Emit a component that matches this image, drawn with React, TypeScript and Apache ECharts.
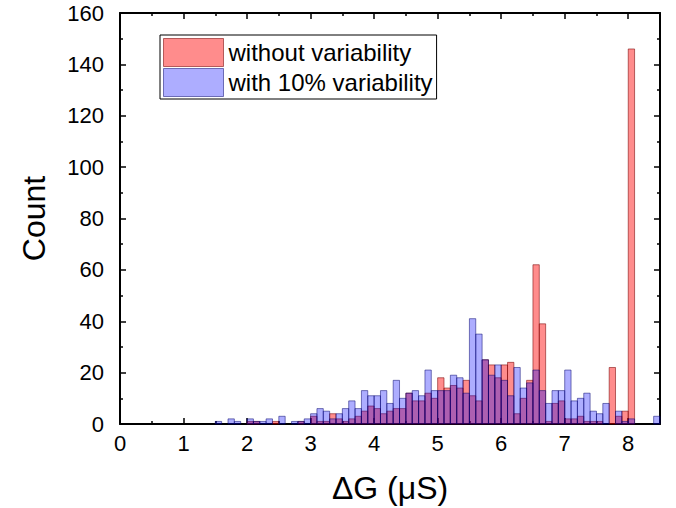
import React, { useEffect, useRef } from 'react';
import * as echarts from 'echarts';

// Histogram bins of width 0.1 µS, starting at 1.5 µS (bins 1.5–1.6 … 8.4–8.5)
const BIN_WIDTH = 0.1;
const FIRST_BIN_INDEX = 15; // 1.5 / 0.1

const seriesNames = ['without variability', 'with 10% variability'];

// counts, "without variability"
const withoutVariability = [
  0, 0, 0, 0, 0, 1, 1, 0, 0, 1, // 1.5 - 2.4
  0, 0, 0, 1, 0, 3, 1, 1, 4, 2, // 2.5 - 3.4
  1, 2, 3, 5, 7, 6, 4, 5, 6, 6, // 3.5 - 4.4
  12, 9, 9, 12, 10, 18, 14, 15, 14, 17, // 4.5 - 5.4
  11, 9, 25, 23, 18, 23, 24, 4, 10, 17, // 5.5 - 6.4
  62, 39, 1, 8, 9, 2, 2, 3, 1, 1, // 6.5 - 7.4
  1, 0, 22, 3, 5, 146, 0, 0, 0, 0, // 7.5 - 8.4
];

// counts, "with 10% variability"
const withVariability = [
  1, 0, 2, 1, 0, 2, 1, 1, 2, 0, // 1.5 - 2.4
  3, 0, 1, 1, 2, 4, 6, 5, 2, 4, // 2.5 - 3.4
  6, 9, 6, 13, 11, 11, 13, 8, 17, 10, // 3.5 - 4.4
  12, 13, 11, 21, 13, 13, 13, 19, 18, 12, // 4.5 - 5.4
  41, 35, 25, 19, 23, 17, 11, 22, 14, 16, // 5.5 - 6.4
  21, 13, 8, 13, 13, 21, 9, 10, 12, 5, // 6.5 - 7.4
  4, 8, 0, 5, 1, 2, 0, 0, 0, 3, // 7.5 - 8.4
];

const xMajorTicks = [0, 1, 2, 3, 4, 5, 6, 7, 8];
const xMinorTicks = [0.5, 1.5, 2.5, 3.5, 4.5, 5.5, 6.5, 7.5];

const FONT = '"Liberation Sans", Arial, Helvetica, sans-serif';
const RED_FILL = 'rgba(255,0,0,0.45)';
const RED_STROKE = 'rgba(120,0,0,0.55)';
const BLUE_FILL = 'rgba(0,0,255,0.32)';
const BLUE_STROKE = 'rgba(0,0,110,0.5)';

function toBins(counts: number[]) {
  return counts.map((c, i) => {
    const x0 = (FIRST_BIN_INDEX + i) / 10;
    const x1 = (FIRST_BIN_INDEX + i + 1) / 10;
    return [x0, x1, c];
  });
}

function makeRenderItem(fill: string, stroke: string) {
  return (params: any, api: any) => {
    const x0 = api.value(0);
    const x1 = api.value(1);
    const y = api.value(2);
    if (!y) return null;
    const p0 = api.coord([x0, y]);
    const p1 = api.coord([x1, 0]);
    return {
      type: 'rect',
      shape: { x: p0[0], y: p0[1], width: p1[0] - p0[0], height: p1[1] - p0[1] },
      style: { fill, stroke, lineWidth: 1 },
    };
  };
}

const axisLineStyle = { color: '#000', width: 2 };

export default function App() {
  const ref = useRef<HTMLDivElement>(null);

  useEffect(() => {
    if (!ref.current) return;
    const chart = echarts.init(ref.current, null, { renderer: 'svg' });

    const xBase = { type: 'value', min: 0, max: 8.5, gridIndex: 0 };
    const yBase = { type: 'value', min: 0, max: 160, interval: 20, gridIndex: 0 };

    const option: any = {
      animation: false,
      backgroundColor: '#fff',
      grid: { left: 120, right: 16, top: 13, bottom: 84, containLabel: false, outerBoundsMode: 'none' },
      legend: {
        orient: 'vertical',
        left: 160,
        top: 35,
        padding: [3, 4, 2, 3],
        itemGap: 1,
        itemWidth: 60,
        itemHeight: 28,
        borderColor: '#000',
        borderWidth: 1,
        backgroundColor: '#fff',
        textStyle: { fontFamily: FONT, fontSize: 24, color: '#000' },
        data: [
          { name: seriesNames[0], icon: 'rect', itemStyle: { color: RED_FILL, borderColor: RED_STROKE, borderWidth: 1 } },
          { name: seriesNames[1], icon: 'rect', itemStyle: { color: BLUE_FILL, borderColor: BLUE_STROKE, borderWidth: 1 } },
        ],
      },
      xAxis: [
        {
          ...xBase,
          position: 'bottom',
          name: 'ΔG (μS)',
          nameLocation: 'middle',
          nameGap: 48,
          nameTextStyle: { fontFamily: FONT, fontSize: 32, color: '#000' },
          axisLine: { show: true, onZero: false, lineStyle: axisLineStyle },
          axisTick: { show: true, inside: true, length: 6, customValues: xMajorTicks, lineStyle: { color: '#000', width: 1.5 } },
          axisLabel: { show: true, customValues: xMajorTicks, margin: 8, fontFamily: FONT, fontSize: 22, color: '#000' },
          splitLine: { show: false },
        },
        {
          ...xBase,
          position: 'bottom',
          axisLine: { show: false, onZero: false },
          axisTick: { show: true, inside: true, length: 3, customValues: xMinorTicks, lineStyle: { color: '#000', width: 1.5 } },
          axisLabel: { show: false },
          splitLine: { show: false },
        },
        {
          ...xBase,
          position: 'top',
          axisLine: { show: true, onZero: false, lineStyle: axisLineStyle },
          axisTick: { show: true, inside: true, length: 6, customValues: xMajorTicks, lineStyle: { color: '#000', width: 1.5 } },
          axisLabel: { show: false },
          splitLine: { show: false },
        },
        {
          ...xBase,
          position: 'top',
          axisLine: { show: false, onZero: false },
          axisTick: { show: true, inside: true, length: 3, customValues: xMinorTicks, lineStyle: { color: '#000', width: 1.5 } },
          axisLabel: { show: false },
          splitLine: { show: false },
        },
      ],
      yAxis: [
        {
          ...yBase,
          position: 'left',
          name: 'Count',
          nameLocation: 'middle',
          nameGap: 70,
          nameTextStyle: { fontFamily: FONT, fontSize: 32, color: '#000' },
          axisLine: { show: true, onZero: false, lineStyle: axisLineStyle },
          axisTick: { show: true, inside: true, length: 6, lineStyle: { color: '#000', width: 1.5 } },
          minorTick: { show: true, splitNumber: 2, length: 3, lineStyle: { color: '#000', width: 1.5 } },
          axisLabel: { show: true, margin: 16, fontFamily: FONT, fontSize: 22, color: '#000' },
          splitLine: { show: false },
          minorSplitLine: { show: false },
        },
        {
          ...yBase,
          position: 'right',
          axisLine: { show: true, onZero: false, lineStyle: axisLineStyle },
          axisTick: { show: true, inside: true, length: 6, lineStyle: { color: '#000', width: 1.5 } },
          minorTick: { show: true, splitNumber: 2, length: 3, lineStyle: { color: '#000', width: 1.5 } },
          axisLabel: { show: false },
          splitLine: { show: false },
          minorSplitLine: { show: false },
        },
      ],
      series: [
        {
          name: seriesNames[0],
          type: 'custom',
          xAxisIndex: 0,
          yAxisIndex: 0,
          renderItem: makeRenderItem(RED_FILL, RED_STROKE),
          encode: { x: [0, 1], y: 2 },
          itemStyle: { color: RED_FILL, borderColor: RED_STROKE },
          data: toBins(withoutVariability),
          z: 2,
        },
        {
          name: seriesNames[1],
          type: 'custom',
          xAxisIndex: 0,
          yAxisIndex: 0,
          renderItem: makeRenderItem(BLUE_FILL, BLUE_STROKE),
          encode: { x: [0, 1], y: 2 },
          itemStyle: { color: BLUE_FILL, borderColor: BLUE_STROKE },
          data: toBins(withVariability),
          z: 3,
        },
      ],
    };

    chart.setOption(option);
    return () => {
      chart.dispose();
    };
  }, []);

  return (
    <div
      ref={ref}
      style={{ position: 'fixed', left: 0, top: 0, width: 676, height: 508, background: '#fff' }}
    />
  );
}
